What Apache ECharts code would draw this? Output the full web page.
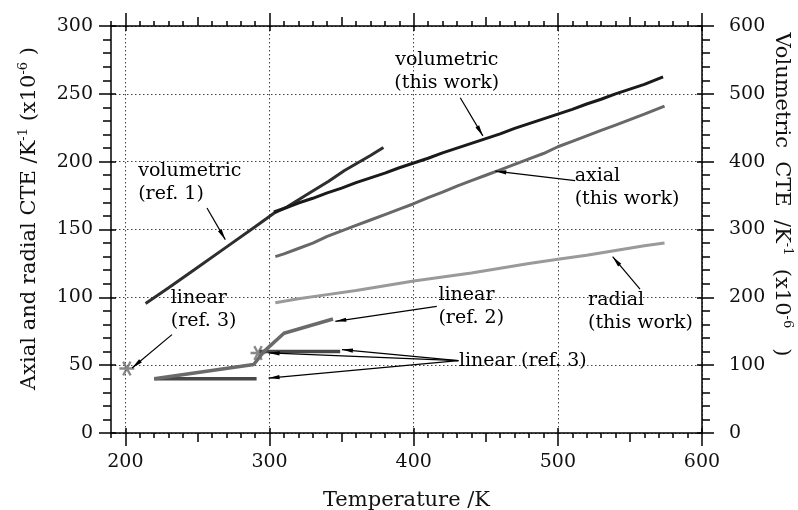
<!DOCTYPE html>
<html>
<head>
<meta charset="utf-8">
<script src="https://cdn.jsdelivr.net/npm/echarts@6/dist/echarts.min.js"></script>
<style>
  html, body { margin: 0; padding: 0; background: #fff; }
  #chart { width: 798px; height: 510px; }
</style>
</head>
<body>
<div id="chart"></div>
<script>
// ---- data: temperature (K) vs. CTE (x10^-6 /K) ----
// volumetric CTE, this work (right axis)
const volThisT = [303, 310, 320, 330, 340, 350, 360, 370, 380, 390, 400, 410, 420, 430, 440, 450, 460, 470, 480, 490, 500, 510, 520, 530, 540, 550, 560, 573];
const volThisV = [326, 331, 339, 346, 354, 361, 369, 376, 383, 391, 398, 405, 413, 420, 427, 434, 441, 449, 456, 463, 470, 477, 485, 492, 500, 507, 514, 525];
// axial CTE, this work (left axis)
const axialT = [304, 310, 320, 330, 340, 350, 360, 370, 380, 390, 400, 410, 420, 430, 440, 450, 460, 470, 480, 490, 500, 510, 520, 530, 540, 550, 560, 574];
const axialV = [130, 132, 136, 140, 145, 149, 153, 157, 161, 165, 169, 173.5, 177.5, 182, 186, 190, 194, 198, 202, 206, 211, 215, 219, 223, 227, 231, 235, 241];
// radial CTE, this work (left axis)
const radialT = [304, 320, 340, 360, 380, 400, 420, 440, 460, 480, 500, 520, 540, 560, 574];
const radialV = [96, 99, 102, 105, 108.5, 112, 115, 118, 121.5, 125, 128, 131, 134.5, 138, 140];
// volumetric CTE, ref. 1 (right axis)
const volRef1T = [214, 230, 250, 270, 290, 303, 312, 324, 341, 352, 361, 370, 379];
const volRef1V = [191, 214, 244, 274, 304, 324, 333, 349, 371, 387, 398, 409, 421];
// linear CTE, ref. 2 (left axis)
const linRef2T = [220, 289, 296, 310, 344];
const linRef2V = [40, 50.5, 60, 73.5, 84];
// linear CTE, ref. 3 (left axis): two flat segments and two single points
const linRef3aT = [220, 291];
const linRef3aV = [40, 40];
const linRef3bT = [293, 349];
const linRef3bV = [60, 60];
const linRef3PtT = [201, 292];
const linRef3PtV = [47.5, 59];

// axis ticks
const xMajor = [200, 300, 400, 500, 600];
const xMid = [200, 250, 300, 350, 400, 450, 500, 550, 600];

// annotations: text anchored at [T, left-axis value]
const notes = [
  { at: [423.3, 266.3], text: 'volumetric\n(this work)', align: 'center' },
  { at: [512, 180.4], text: 'axial\n(this work)', align: 'left' },
  { at: [209.2, 184.3], text: 'volumetric\n(ref. 1)', align: 'left' },
  { at: [521.3, 89.4], text: 'radial\n(this work)', align: 'left' },
  { at: [417.5, 92.7], text: 'linear\n(ref. 2)', align: 'left' },
  { at: [431.7, 52.8], text: 'linear (ref. 3)', align: 'left' },
  { at: [231.8, 90.9], text: 'linear\n(ref. 3)', align: 'left' }
];
// arrows: from -> to, in [T, left-axis value]
const arrows = [
  [[432.3, 247.1], [448, 219]],
  [[512, 186], [456.6, 193]],
  [[256.6, 165.8], [269.3, 142.5]],
  [[557, 106], [538, 130]],
  [[416, 93.3], [345.6, 82.3]],
  [[431, 53.3], [350.2, 61.5]],
  [[431, 53.3], [299.3, 59]],
  [[431, 53.3], [299.3, 40.5]],
  [[232.3, 72.5], [204.6, 47.9]]
];

const pairs = (xs, ys) => xs.map((x, i) => [x, ys[i]]);

const FONT = 'DejaVu Serif';
const INK = '#000';
const axisLineStyle = { color: '#000', width: 1.5 };
const tickLine = { color: '#000', width: 1.5 };
const gridLine = { color: '#444', width: 1, type: [1.5, 2.5] };
const xMin = 190, xMax = 600;

function xAxisSet(pos, withLabels) {
  return [
    { type: 'value', position: pos, min: xMin, max: xMax, interval: 10,
      axisLine: { show: true, onZero: false, lineStyle: axisLineStyle },
      axisTick: { show: true, length: 5, lineStyle: tickLine },
      axisLabel: { show: false }, splitLine: { show: false } },
    { type: 'value', position: pos, min: xMin, max: xMax,
      axisLine: { show: false, onZero: false },
      axisTick: { show: true, customValues: xMid, length: 9, lineStyle: tickLine },
      axisLabel: { show: false }, splitLine: { show: false } },
    { type: 'value', position: pos, min: xMin, max: xMax,
      axisLine: { show: false, onZero: false },
      axisTick: { show: true, customValues: xMajor, length: 13, lineStyle: tickLine },
      axisLabel: withLabels
        ? { show: true, customValues: xMajor, margin: 20, fontFamily: FONT, fontSize: 19, color: '#111' }
        : { show: false },
      splitLine: withLabels ? { show: true, lineStyle: gridLine } : { show: false },
      name: withLabels ? 'Temperature /K' : '',
      nameLocation: 'middle', nameGap: 57, nameMoveOverlap: false,
      nameTextStyle: { fontFamily: FONT, fontSize: 21, color: '#111' } },
    { type: 'value', position: pos, min: xMin, max: xMax,
      axisLine: { show: false, onZero: false },
      axisTick: { show: true, inside: true, customValues: xMajor, length: 5, lineStyle: tickLine },
      axisLabel: { show: false }, splitLine: { show: false } }
  ];
}

const supRich = {
  s: { fontFamily: FONT, fontSize: 13, color: '#111', verticalAlign: 'top', lineHeight: 12 }
};

const option = {
  animation: false,
  backgroundColor: '#fff',
  grid: { left: 111, right: 96, top: 26, bottom: 77, containLabel: false, outerBoundsMode: 'none' },
  xAxis: [...xAxisSet('bottom', true), ...xAxisSet('top', false)],
  yAxis: [
    { type: 'value', position: 'left', min: 0, max: 300, interval: 50,
      axisLine: { show: true, onZero: false, lineStyle: axisLineStyle },
      axisTick: { show: true, length: 12, lineStyle: tickLine },
      minorTick: { show: true, splitNumber: 5, length: 8, lineStyle: tickLine },
      axisLabel: { margin: 18, fontFamily: FONT, fontSize: 19, color: '#111' },
      splitLine: { show: true, lineStyle: gridLine },
      name: 'Axial and radial CTE /K{s|-1} (x10{s|-6} )',
      nameLocation: 'middle', nameGap: 68, nameMoveOverlap: false,
      nameTextStyle: { fontFamily: FONT, fontSize: 21, color: '#111', lineHeight: 26,
        padding: [0, 0, 0, 22], rich: supRich } },
    { type: 'value', position: 'left', min: 0, max: 300, interval: 50,
      axisLine: { show: false, onZero: false },
      axisTick: { show: true, inside: true, length: 5, lineStyle: tickLine },
      axisLabel: { show: false }, splitLine: { show: false } },
    { type: 'value', position: 'right', min: 0, max: 600, interval: 100,
      axisLine: { show: true, onZero: false, lineStyle: axisLineStyle },
      axisTick: { show: true, length: 12, lineStyle: tickLine },
      minorTick: { show: true, splitNumber: 5, length: 8, lineStyle: tickLine },
      axisLabel: { margin: 27, fontFamily: FONT, fontSize: 19, color: '#111' },
      splitLine: { show: false },
      name: 'Volumetric  CTE  /K{s|-1}  (x10{s|-6}   )',
      nameLocation: 'middle', nameGap: 66, nameRotate: -90, nameMoveOverlap: false,
      nameTextStyle: { fontFamily: FONT, fontSize: 21, color: '#111', lineHeight: 26,
        padding: [0, 70, 0, 0], rich: supRich } },
    { type: 'value', position: 'right', min: 0, max: 600, interval: 100,
      axisLine: { show: false, onZero: false },
      axisTick: { show: true, inside: true, length: 5, lineStyle: tickLine },
      axisLabel: { show: false }, splitLine: { show: false } }
  ],
  series: [
    { name: 'radial (this work)', type: 'line', yAxisIndex: 0, data: pairs(radialT, radialV),
      showSymbol: false, lineStyle: { color: '#9a9a9a', width: 3 } },
    { name: 'axial (this work)', type: 'line', yAxisIndex: 0, data: pairs(axialT, axialV),
      showSymbol: false, lineStyle: { color: '#686868', width: 3 } },
    { name: 'volumetric (ref. 1)', type: 'line', yAxisIndex: 2, data: pairs(volRef1T, volRef1V),
      showSymbol: false, lineStyle: { color: '#2e2e2e', width: 3 } },
    { name: 'volumetric (this work)', type: 'line', yAxisIndex: 2, data: pairs(volThisT, volThisV),
      showSymbol: false, lineStyle: { color: '#1a1a1a', width: 3 } },
    { name: 'linear (ref. 3)', type: 'line', yAxisIndex: 0, data: pairs(linRef3aT, linRef3aV),
      showSymbol: false, lineStyle: { color: '#474747', width: 3.5 } },
    { name: 'linear (ref. 3)', type: 'line', yAxisIndex: 0, data: pairs(linRef3bT, linRef3bV),
      showSymbol: false, lineStyle: { color: '#474747', width: 3.5 } },
    { name: 'linear (ref. 2)', type: 'line', yAxisIndex: 0, data: pairs(linRef2T, linRef2V),
      showSymbol: false, lineStyle: { color: '#6a6a6a', width: 3.5 } },
    { name: 'linear (ref. 3) points', type: 'scatter', yAxisIndex: 0, data: pairs(linRef3PtT, linRef3PtV),
      symbol: 'path://M0 8.5L20 8.5L20 11.5L0 11.5Z M3.7 2.09L6.3 0.59L16.3 17.91L13.7 19.41Z M13.7 0.59L16.3 2.09L6.3 19.41L3.7 17.91Z',
      symbolSize: 15, itemStyle: { color: '#6a6a6a' } },
    { name: 'arrows', type: 'lines', coordinateSystem: 'cartesian2d', xAxisIndex: 0, yAxisIndex: 0,
      data: arrows.map(a => ({ coords: a })),
      symbol: ['none', 'path://M-2 -2L-2 -2M22 22L22 22M10 10L12.3 22L7.7 22Z'],
      symbolSize: 22,
      lineStyle: { color: '#000', width: 1.2, opacity: 1 }, z: 5 },
    { name: 'notes', type: 'scatter', yAxisIndex: 0, symbolSize: 1,
      itemStyle: { color: 'rgba(0,0,0,0)' }, z: 6, silent: true,
      data: notes.map(n => ({
        value: n.at,
        label: { show: true, position: [0, 0], formatter: n.text, align: n.align, verticalAlign: 'middle',
          fontFamily: FONT, fontSize: 19, lineHeight: 23, color: INK,
          textBorderWidth: 0, opacity: 1 }
      })) }
  ]
};

const chart = echarts.init(document.getElementById('chart'), null, { renderer: 'canvas' });
chart.setOption(option);
</script>
</body>
</html>
